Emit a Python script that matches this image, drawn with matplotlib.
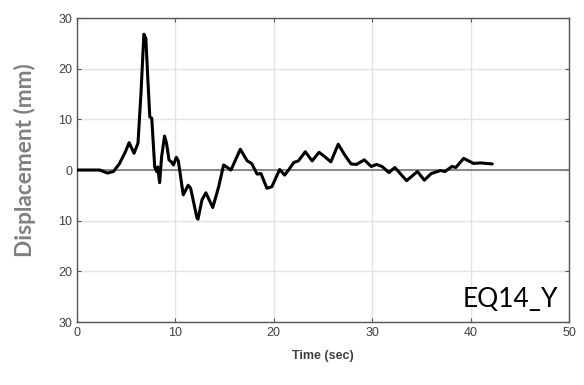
import matplotlib
matplotlib.use("Agg")
from matplotlib import pyplot as plt

# time (sec) and displacement (mm)
time = [0.0, 1.0, 2.3, 3.1, 3.7, 4.3, 4.9, 5.3, 5.8, 6.2, 6.5, 6.8, 7.0, 7.2, 7.4, 7.6,
        7.9, 8.1, 8.2, 8.4, 8.6, 8.9, 9.1, 9.35, 9.6, 9.8, 10.1, 10.3, 10.8, 11.3, 11.55,
        12.2, 12.3, 12.7, 13.1, 13.8, 14.4, 14.9, 15.65, 16.6, 17.3, 17.75, 18.3, 18.7,
        19.3, 19.8, 20.6, 21.1, 21.5, 22.05, 22.5, 23.2, 23.9, 24.6, 25.2, 25.8, 26.55,
        27.2, 27.85, 28.4, 29.2, 29.9, 30.45, 31.0, 31.7, 32.3, 33.5, 34.6, 35.3, 36.0,
        36.95, 37.4, 38.1, 38.5, 39.3, 40.3, 41.0, 42.2]
disp = [0.0, 0.0, 0.0, -0.6, -0.3, 1.2, 3.5, 5.4, 3.3, 5.3, 15.0, 26.8, 26.0, 18.0, 10.5, 10.2,
        0.6, -0.3, 0.6, -2.5, 2.6, 6.7, 5.3, 2.0, 1.6, 1.0, 2.5, 1.8, -4.9, -3.0, -3.6,
        -9.5, -9.7, -5.9, -4.5, -7.4, -3.3, 1.0, 0.0, 4.1, 1.8, 1.3, -0.8, -0.7,
        -3.6, -3.3, 0.1, -1.0, 0.0, 1.5, 1.8, 3.6, 1.8, 3.5, 2.6, 1.6, 5.1,
        3.0, 1.2, 1.1, 2.0, 0.7, 1.1, 0.7, -0.5, 0.5, -2.1, -0.3, -2.0, -0.7,
        -0.1, -0.3, 0.7, 0.5, 2.3, 1.3, 1.4, 1.2]

y_ticks = [-30, -20, -10, 0, 10, 20, 30]
y_tick_labels = ["30", "20", "10", "0", "10", "20", "30"]
x_ticks = [0, 10, 20, 30, 40, 50]

fig = plt.figure(figsize=(5.84, 3.85), dpi=100)
ax = fig.add_axes([0.1318, 0.1636, 0.8425, 0.7896])

ax.grid(True, color="#e3e3e3", linewidth=1.0)
ax.axhline(0, color="#808080", linewidth=1.3, zorder=2)
ax.plot(time, disp, color="black", linewidth=2.2, zorder=3,
        solid_joinstyle="round", solid_capstyle="round")

ax.set_xlim(0, 50)
ax.set_ylim(-30, 30)
ax.set_xticks(x_ticks)
ax.set_yticks(y_ticks)
ax.set_yticklabels(y_tick_labels)

for spine in ax.spines.values():
    spine.set_color("#555555")
    spine.set_linewidth(1.0)

ax.tick_params(direction="in", length=3, color="#555555", labelcolor="#404040",
               labelsize=9, top=True, right=True)
for lbl in ax.get_xticklabels() + ax.get_yticklabels():
    lbl.set_family("Liberation Sans")

ax.set_xlabel("Time (sec)", fontsize=9, fontweight="bold", color="#404040",
              family="Liberation Sans", labelpad=8)
ax.set_ylabel("Displacement (mm)", fontsize=16.3, fontweight="bold", color="#808080",
              family="Lato")
ax.yaxis.label.set_va("center")
ax.yaxis.set_label_coords(-0.106, 0.533)

ax.text(0.978, 0.048, "EQ14_Y", transform=ax.transAxes, ha="right", va="baseline",
        fontsize=19, color="black", family="Lato")

fig.savefig("out.png", dpi=100)
